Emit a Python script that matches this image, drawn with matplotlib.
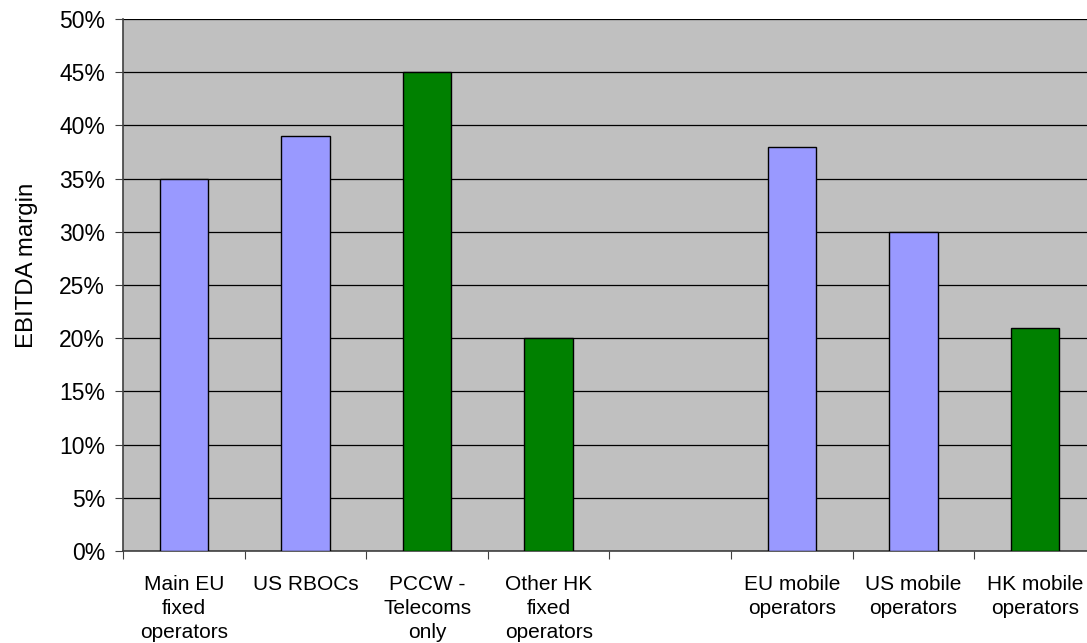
import matplotlib.pyplot as plt
from matplotlib.ticker import FixedLocator, FuncFormatter

plt.rcParams['font.family'] = ['Liberation Sans', 'DejaVu Sans']

# EBITDA margin by operator group (%)
categories = ['Main EU\nfixed\noperators', 'US RBOCs', 'PCCW -\nTelecoms\nonly',
              'Other HK\nfixed\noperators', '', 'EU mobile\noperators',
              'US mobile\noperators', 'HK mobile\noperators']
margins = [35, 39, 45, 20, None, 38, 30, 21]
colors = ['#9999FF', '#9999FF', '#008000', '#008000', None, '#9999FF', '#9999FF', '#008000']

fig = plt.figure(figsize=(10.87, 6.43), dpi=100)
ax = fig.add_axes([0.1132, 0.1431, 0.895, 0.8274])
ax.set_facecolor('#C0C0C0')

for i, (v, c) in enumerate(zip(margins, colors)):
    if v is None:
        continue
    ax.bar(i, v, width=0.4, color=c, edgecolor='black', linewidth=1, zorder=3)

ax.set_xlim(-0.5, len(categories) - 0.5)
ax.set_ylim(0, 50)
ax.set_yticks(range(0, 51, 5))
ax.yaxis.set_major_formatter(FuncFormatter(lambda v, p: f'{int(v)}%'))
ax.grid(axis='y', color='black', linewidth=0.9, zorder=1)

# category boundaries carry the ticks, labels sit between them
ax.xaxis.set_major_locator(FixedLocator([i - 0.5 for i in range(len(categories) + 1)]))
ax.xaxis.set_minor_locator(FixedLocator(range(len(categories))))
ax.set_xticklabels([])
ax.set_xticklabels(categories, minor=True, fontsize=15, linespacing=1.36)
ax.tick_params(axis='x', which='major', length=6, color='#404040')
ax.tick_params(axis='x', which='minor', length=0, pad=17)
ax.tick_params(axis='y', length=6, color='#404040', labelsize=16.5, pad=7)

for s in ['top', 'right']:
    ax.spines[s].set_visible(False)
ax.spines['left'].set_color('#404040')
ax.spines['bottom'].set_color('#404040')
ax.spines['left'].set_linewidth(1.2)
ax.spines['bottom'].set_linewidth(1.2)

ax.set_ylabel('EBITDA margin', fontsize=17.3)
ax.yaxis.set_label_coords(-0.0874, 0.536)

fig.savefig('out.png', dpi=100)
